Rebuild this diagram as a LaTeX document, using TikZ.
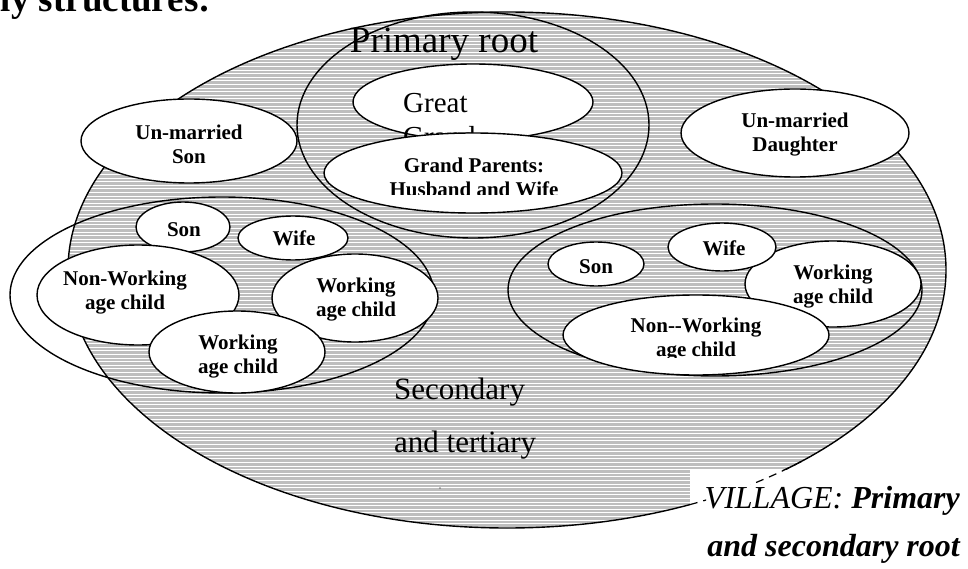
\documentclass[tikz,border=0pt]{standalone}
\usepackage{fontspec}
\setmainfont{Liberation Serif}
\usetikzlibrary{shapes.geometric}
\definecolor{stripegray}{HTML}{BEBEBE}
\begin{document}
\begin{tikzpicture}[x=1pt,y=-1pt,
  ell/.style={ellipse, draw, line width=1.4pt, inner sep=0pt},
  wnode/.style={ell, fill=white},
  lbl/.style={font=\fontsize{21}{24}\selectfont\bfseries, align=center, inner sep=0pt},
]
\useasboundingbox (0,0) rectangle (968,569);
\clip (0,0) rectangle (968,569);

% heading (cut by top edge)
\node[anchor=base east, inner sep=0pt, font=\fontsize{37}{40}\selectfont\bfseries] (head) at (211,12) {Family structures:};

% village: striped ellipse
\begin{scope}
  \clip (507,270) ellipse [x radius=439, y radius=258];
  \fill[stripegray] (60,0) rectangle (960,540);
  \foreach \i in {0,...,150}
    \draw[white, line width=1.1pt] (60,12.5+3.6*\i) -- (960,12.5+3.6*\i);
\end{scope}
\node[ell, minimum width=878pt, minimum height=516pt] (village) at (507,270) {};

% primary root ellipse and family ellipses
\node[ell, minimum width=352pt, minimum height=226pt] (primary) at (473,125) {};
\node[ell, minimum width=424pt, minimum height=196pt] (famL) at (222,295) {};
\node[ell, minimum width=414pt, minimum height=172pt] (famR) at (715,290) {};

\node[anchor=base, inner sep=0pt, font=\fontsize{37}{40}\selectfont] (primlbl) at (444,53) {Primary root};

% unmarried
\node[wnode, minimum width=216pt, minimum height=84pt] (unSon) at (189,141) {};
\node[lbl] (tunSon) at (189,144) {Un-married\\Son};
\node[wnode, minimum width=228pt, minimum height=88pt] (unDau) at (795,133) {};
\node[lbl] (tunDau) at (795,135) {Un-married\\Daughter};

% grandparents
\node[wnode, minimum width=240pt, minimum height=76pt] (great) at (473,102) {};
\node[anchor=base west, inner sep=0pt, font=\fontsize{29}{34}\selectfont] (tgreat1) at (403,113) {Great};
\node[anchor=base west, inner sep=0pt, font=\fontsize{29}{34}\selectfont] (tgreat2) at (403,147) {Grand};
\node[wnode, minimum width=298pt, minimum height=80pt] (gp) at (473,173) {};
\begin{scope}
  \clip (300,140) rectangle (640,195);
  \node[lbl] (tgp) at (474,177.5) {Grand Parents:\\Husband and Wife};
\end{scope}

% left family
\node[wnode, minimum width=94pt, minimum height=50pt] (sonL) at (183,227) {};
\node[lbl] (tsonL) at (184,230) {Son};
\node[wnode, minimum width=110pt, minimum height=44pt] (wifeL) at (293,238) {};
\node[lbl] (twifeL) at (294,238) {Wife};
\node[wnode, minimum width=166pt, minimum height=88pt] (wkL1) at (355,298) {};
\node[lbl] (twkL1) at (356,300) {Working\\age child};
\node[wnode, minimum width=202pt, minimum height=100pt] (nwL) at (138,295) {};
\node[lbl] (tnwL) at (125,293) {Non-Working\\age child};
\node[wnode, minimum width=176pt, minimum height=82pt] (wkL2) at (237,352) {};
\node[lbl] (twkL2) at (238,357) {Working\\age child};

% right family
\node[wnode, minimum width=96pt, minimum height=44pt] (sonR) at (596,264) {};
\node[lbl] (tsonR) at (596,267) {Son};
\node[wnode, minimum width=176pt, minimum height=86pt] (wkR) at (833,284) {};
\node[lbl] (twkR) at (833,287) {Working\\age child};
\node[wnode, minimum width=108pt, minimum height=48pt] (wifeR) at (722,247) {};
\node[lbl] (twifeR) at (724,248) {Wife};
\node[wnode, minimum width=266pt, minimum height=80pt] (nwR) at (696,335) {};
\begin{scope}
  \clip (560,300) rectangle (830,357);
  \node[lbl] (tnwR) at (696,340) {Non-{}-Working\\age child};
\end{scope}

% secondary label
\node[anchor=base west, inner sep=0pt, font=\fontsize{31}{34}\selectfont] (sec1) at (394,399) {Secondary};
\node[anchor=base west, inner sep=0pt, font=\fontsize{31}{34}\selectfont] (sec2) at (394,452) {and tertiary};
\fill (440,488) circle (0.6);

% village label box
\fill[white] (690,470) rectangle (968,569);
\begin{scope}
  \clip (690,460) rectangle (706,569) (706,460) rectangle (968,484);
  \draw[line width=1.2pt, dash pattern=on 8pt off 6pt] (507,270) ellipse [x radius=439, y radius=258];
\end{scope}
\node[anchor=base east, inner sep=0pt, font=\fontsize{32}{36}\selectfont\itshape] (vil1) at (960,508) {VILLAGE: \textbf{Primary}};
\node[anchor=base east, inner sep=0pt, font=\fontsize{32}{36}\selectfont\itshape\bfseries] (vil2) at (960,556) {and secondary root};
\end{tikzpicture}
\end{document}
